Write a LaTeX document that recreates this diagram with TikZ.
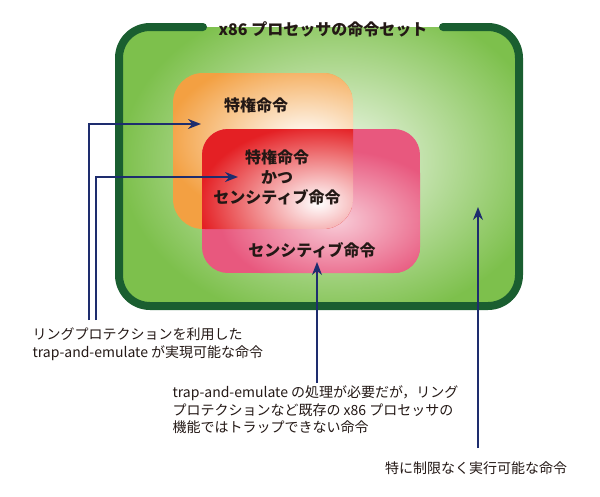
\documentclass[tikz,border=0pt]{standalone}
\usepackage{fontspec}
\setmainfont{Noto Sans CJK JP}
\usetikzlibrary{arrows.meta}

\definecolor{setdark}{RGB}{26,94,48}
\definecolor{setgreen}{RGB}{125,192,76}
\definecolor{privorange}{RGB}{243,160,66}
\definecolor{bothred}{RGB}{228,32,36}
\definecolor{senspink}{RGB}{232,88,126}
\definecolor{arrownavy}{RGB}{30,45,110}
\definecolor{textdark}{RGB}{35,24,21}

\tikzset{
  boxlabel/.style={text=textdark, font=\fontsize{16}{20}\selectfont\bfseries, align=center},
  notelabel/.style={text=textdark, font=\fontsize{14}{17.5}\selectfont, align=left},
  pointer/.style={draw=arrownavy, line width=1.6pt, -{Stealth[length=13pt,width=10pt]}}
}

\begin{document}
\begin{tikzpicture}[x=1pt, y=-1pt]
    \useasboundingbox (0,0) rectangle (600,496);

    %Outer set
    \begin{scope}
      \clip[rounded corners=31] (119,27) rectangle (519,306);
      \fill[setgreen] (119,27) rectangle (519,306);
      \shade[inner color=setgreen!10, outer color=setgreen] (335,160) ellipse (215 and 165);
    \end{scope}
    \draw[setdark, line width=8pt, line cap=round, rounded corners=31]
      (203,27) -- (119,27) -- (119,306) -- (519,306) -- (519,27) -- (443,27);

    %Privileged
    \begin{scope}
      \clip[rounded corners=30] (173,73) rectangle (353,229);
      \fill[privorange] (173,73) rectangle (353,229);
      \shade[inner color=white, outer color=privorange] (305,140) ellipse (140 and 85);
    \end{scope}

    %Sensitive
    \begin{scope}
      \clip[rounded corners=26] (202,129) rectangle (420,273);
      \fill[senspink] (202,129) rectangle (420,273);
      \shade[inner color=senspink!30, outer color=senspink] (335,220) ellipse (115 and 70);
    \end{scope}

    %Both
    \begin{scope}
      \clip[rounded corners=30] (173,73) rectangle (353,229);
      \clip[rounded corners=26] (202,129) rectangle (420,273);
      \fill[bothred] (202,129) rectangle (353,229);
      \shade[inner color=white, outer color=bothred] (318,203) ellipse (120 and 78);
    \end{scope}

    %Labels
    \node[boxlabel] (title) at (323,29) {x86 プロセッサの命令セット};
    \node[boxlabel] (priv) at (256,105) {特権命令};
    \node[boxlabel] (both) at (277,177) {特権命令\\かつ\\センシティブ命令};
    \node[boxlabel] (sens) at (312,250) {センシティブ命令};

    \node[notelabel, anchor=west] (ringnote) at (29,344)
      {リングプロテクションを利用した\\trap-and-emulate が実現可能な命令};
    \node[notelabel, anchor=west] (sensnote) at (169,410)
      {trap-and-emulate の処理が必要だが，リング\\プロテクションなど既存の x86 プロセッサの\\機能ではトラップできない命令};
    \node[notelabel, anchor=center] (freenote) at (476,468) {特に制限なく実行可能な命令};

    %Pointers
    \coordinate (privfoot) at (89,320);
    \coordinate (bothfoot) at (96,320);
    \coordinate (sensfoot) at (317,383);
    \coordinate (freefoot) at (478,448);
    \coordinate (privtip) at (201,124);
    \coordinate (bothtip) at (238,177);
    \coordinate (senstip) at (317,262);
    \coordinate (freetip) at (478,207);

    \draw[pointer] (privfoot) |- (privtip);
    \draw[pointer] (bothfoot) |- (bothtip);
    \draw[pointer] (sensfoot) -- (senstip);
    \draw[pointer] (freefoot) -- (freetip);
  \end{tikzpicture}
\end{document}
